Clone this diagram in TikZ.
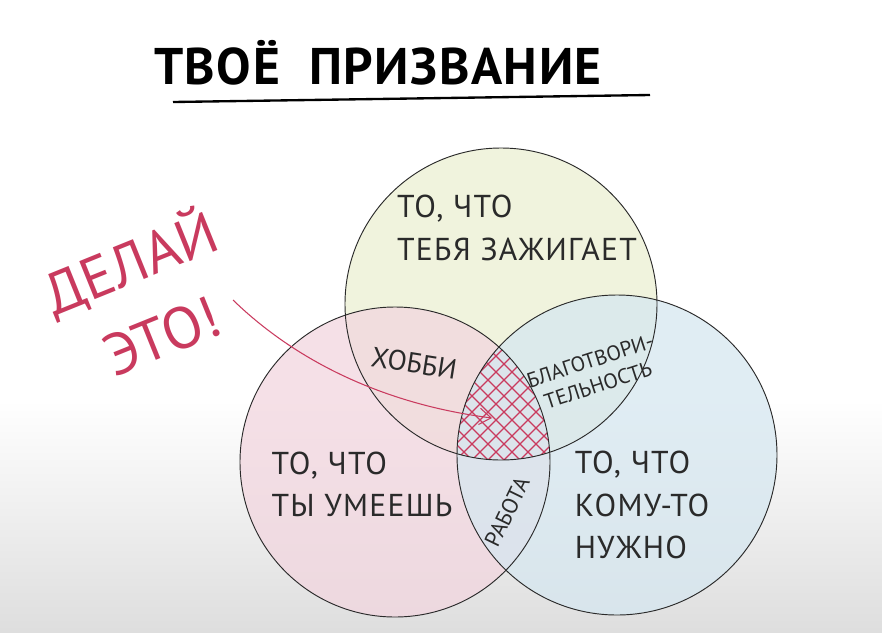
\documentclass[tikz,border=0pt]{standalone}
\usepackage{fontspec}
\setmainfont{PT Sans}
\usetikzlibrary{arrows.meta}

\definecolor{inkgrey}{HTML}{2A2A2A}
\definecolor{inkred}{HTML}{C93A5E}
\definecolor{topfill}{HTML}{ECEFD2}
\definecolor{leftfill}{HTML}{F2D6DF}
\definecolor{rightfill}{HTML}{D6E7F0}

\begin{document}
\begin{tikzpicture}[
x=0.03cm, y=-0.03cm,
ring/.style={draw=inkgrey, line width=0.8pt},
hand/.style={font=\fontsize{27}{36}\selectfont\addfontfeatures{LetterSpace=4}, text=inkgrey, align=left, inner sep=0pt},
smallhand/.style={font=\fontsize{18}{22}\selectfont, text=inkgrey, align=center, inner sep=0pt},
doitlabel/.style={font=\fontsize{50}{56}\selectfont, text=inkred, inner sep=0pt},
hatchline/.style={draw=inkred, line width=1pt},
arrowred/.style={draw=inkred, line width=0.9pt, -{Straight Barb[length=10pt, width=14pt]}}
]

\useasboundingbox (0,0) rectangle (882,632);
\fill[white] (0,0) rectangle (882,632);
\shade[top color=white, bottom color=black!13] (0,400) rectangle (882,632);

\coordinate (ctop) at (501,304);
\coordinate (cleft) at (395,462);
\coordinate (cright) at (617,455);

\fill[topfill, fill opacity=0.75] (ctop) circle[radius=156];
\fill[leftfill, fill opacity=0.75] (cleft) circle[radius=155];
\fill[rightfill, fill opacity=0.75] (cright) circle[radius=160];

\begin{scope}
\clip (ctop) circle[radius=156];
\clip (cleft) circle[radius=155];
\clip (cright) circle[radius=160];
\foreach \d in {0,16,...,210}
  \draw[hatchline] (300+\d,320) -- ++(200,200);
\foreach \d in {-100,-84,...,120}
  \draw[hatchline] (400+\d,520) -- ++(200,-200);
\end{scope}

\draw[ring] (ctop) circle[radius=156];
\draw[ring] (cleft) circle[radius=155];
\draw[ring] (cright) circle[radius=160];

\node[font=\fontsize{44}{48}\selectfont\bfseries\addfontfeatures{LetterSpace=3}, text=black, inner sep=0pt] (title) at (378,63) {ТВОЁ\ \ ПРИЗВАНИЕ};
\coordinate (ul1) at (173,102);
\coordinate (ul2) at (650,95);
\draw[line width=2pt, black] (ul1) -- (ul2);

\node[hand] (passion) at (517,228) {ТО, ЧТО\\ТЕБЯ ЗАЖИГАЕТ};
\node[hand] (skill) at (362,484) {ТО, ЧТО\\ТЫ УМЕЕШЬ};
\node[hand] (need) at (642,505) {ТО, ЧТО\\КОМУ-ТО\\НУЖНО};
\node[hand, font=\fontsize{24}{28}\selectfont, rotate=-9] (hobby) at (414,363) {ХОББИ};
\node[smallhand, rotate=18] (charity) at (594,373) {БЛАГОТВОРИ-\\ТЕЛЬНОСТЬ};
\node[smallhand, font=\fontsize{19}{22}\selectfont, rotate=64] (job) at (507,512) {РАБОТА};

\node[doitlabel, rotate=22] (make) at (130,262) {ДЕЛАЙ};
\node[doitlabel, rotate=22] (this) at (162,336) {ЭТО!};

\coordinate (tail) at (233,300);
\coordinate (target) at (492,418);
\draw[arrowred] (tail) .. controls (300,365) and (390,405) .. (target);

\end{tikzpicture}
\end{document}
